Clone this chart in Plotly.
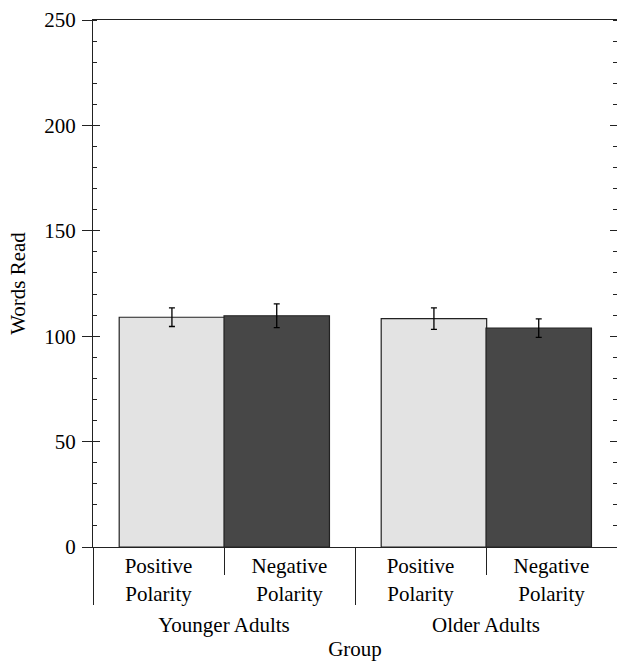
import plotly.graph_objects as go

groups = ["Younger Adults", "Younger Adults", "Older Adults", "Older Adults"]
polarity = ["Positive<br>Polarity", "Negative<br>Polarity", "Positive<br>Polarity", "Negative<br>Polarity"]
words_read = [109.0, 109.7, 108.3, 103.8]
error_se = [4.4, 5.6, 5.1, 4.4]
bar_colors = ["#e3e3e3", "#474747", "#e3e3e3", "#474747"]
bar_offsets = [-0.3, -0.5, -0.3, -0.5]

y_ticks = [0, 50, 100, 150, 200, 250]

# category positions on the x scale (one slot per bar)
positions = list(range(len(words_read)))
group_names = list(dict.fromkeys(groups))
group_members = [[p for p, g in zip(positions, groups) if g == name] for name in group_names]
group_centers = [sum(m) / len(m) for m in group_members]
group_edges = [group_members[0][0] - 0.5] + [m[-1] + 0.5 for m in group_members]
inner_bounds = [m[i] + 0.5 for m in group_members for i in range(len(m) - 1)]
x_range = [positions[0] - 0.5, positions[-1] + 0.5]

FONT = "Liberation Serif"
FS = 21
LINE = "#222222"

fig = go.Figure()
fig.add_trace(go.Bar(
    x=positions,
    y=words_read,
    marker=dict(color=bar_colors, line=dict(color=LINE, width=1.2)),
    offset=bar_offsets,
    width=0.805,
    error_y=dict(type="data", array=error_se, color="#000000", thickness=1.3, width=3),
    showlegend=False, hovertext=[f"{g}, {p.replace('<br>', ' ')}" for g, p in zip(groups, polarity)],
))
# invisible anchor traces so the overlaid axes (dividers, inner ticks, group labels) get drawn
for ax_id, vals, y_id in (("x2", group_edges, "y2"), ("x3", inner_bounds, "y"), ("x4", group_centers, "y")):
    fig.add_trace(go.Scatter(x=vals, y=[None] * len(vals), xaxis=ax_id, yaxis=y_id,
                             mode="lines", showlegend=False, hoverinfo="skip"))

common_x = dict(overlaying="x", anchor="y", side="bottom", automargin=False, type="linear",
                range=x_range, showline=False, showgrid=False, zeroline=False)

fig.update_layout(
    width=617, height=669,
    margin=dict(l=93, r=0, t=20, b=122),
    paper_bgcolor="white", plot_bgcolor="white",
    font=dict(family=FONT, size=FS, color="#000000"),
    xaxis=dict(
        type="linear", range=x_range, automargin=False,
        tickvals=positions, ticktext=polarity,
        showline=True, linecolor=LINE, linewidth=1, mirror=True,
        ticks="", ticklabelstandoff=0,
        showgrid=False, zeroline=False,
        tickfont=dict(family=FONT, size=FS),
        title=dict(text="Group", font=dict(family=FONT, size=FS), standoff=36),
    ),
    xaxis2=dict(common_x, tickvals=group_edges, ticks="outside", ticklen=57,
                tickcolor=LINE, tickwidth=1, showticklabels=False),
    xaxis3=dict(common_x, tickvals=inner_bounds, ticks="outside", ticklen=27,
                tickcolor=LINE, tickwidth=1, showticklabels=False),
    xaxis4=dict(common_x, tickvals=group_centers, ticktext=group_names, ticks="",
                ticklabelstandoff=63, tickfont=dict(family=FONT, size=FS)),
    yaxis=dict(
        range=[0, 250], tickvals=y_ticks, automargin=False,
        showline=True, linecolor=LINE, linewidth=1, mirror="ticks",
        ticks="outside", ticklen=10, tickcolor=LINE, tickwidth=1,
        minor=dict(ticks="inside", ticklen=4, dtick=10, tickcolor=LINE, tickwidth=1),
        showgrid=False, zeroline=False,
        ticklabelstandoff=2,
        tickfont=dict(family=FONT, size=FS),
        title=dict(text="Words Read", font=dict(family=FONT, size=FS), standoff=12),
    ),
    yaxis2=dict(
        overlaying="y", anchor="x", side="left", automargin=False,
        range=[0, 250], tickvals=y_ticks,
        ticks="inside", ticklen=7, tickcolor=LINE, tickwidth=1,
        mirror="ticks", showline=False, showticklabels=False,
        showgrid=False, zeroline=False,
    ),
)

fig.write_html("out.html", config={"displayModeBar": False},
               post_script="document.body.style.margin='0';")
